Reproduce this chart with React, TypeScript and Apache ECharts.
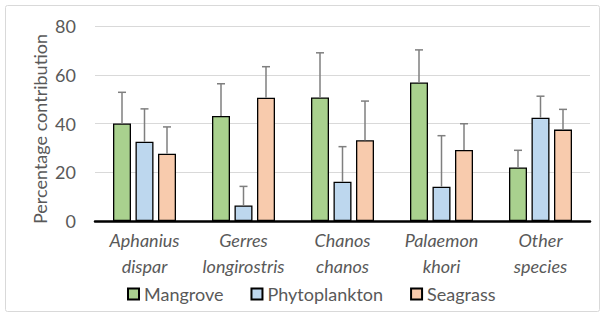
import React, { useEffect, useRef } from "react";
import * as echarts from "echarts";

const categories = ["Aphanius\ndispar", "Gerres\nlongirostris", "Chanos\nchanos", "Palaemon\nkhori", "Other\nspecies"];
const seriesNames = ["Mangrove", "Phytoplankton", "Seagrass"];
const mangrove = [40, 43.1, 50.7, 56.8, 22];
const phytoplankton = [32.5, 6.4, 16.1, 14.1, 42.4];
const seagrass = [27.6, 50.6, 33.1, 29.1, 37.5];
const mangroveErr = [12.8, 13.2, 18.3, 13.4, 7];
const phytoplanktonErr = [13.5, 7.8, 14.4, 20.9, 8.8];
const seagrassErr = [11, 12.7, 16.1, 10.8, 8.3];
const yTicks = { min: 0, max: 80, interval: 20 };
const yAxisTitle = "Percentage contribution";

const colors = ["#A9D18E", "#BDD7EE", "#F8CBAD"];
const FONT = "Lato";

export default function App() {
  const ref = useRef<HTMLDivElement>(null);
  useEffect(() => {
    document.body.style.margin = "0";
    const chart = echarts.init(ref.current!, undefined, { renderer: "svg" });
    const values = [mangrove, phytoplankton, seagrass];
    const errs = [mangroveErr, phytoplanktonErr, seagrassErr];
    const barWidth = 18;
    const gap = 4.5;
    const barSeries = values.map((v, i) => ({
      name: seriesNames[i],
      type: "bar",
      data: v,
      barWidth,
      barGap: (gap / barWidth) * 100 + "%",
      itemStyle: { color: colors[i], borderColor: "#000", borderWidth: 1.3 },
      z: 2,
    }));
    const errSeries = values.map((v, i) => ({
      type: "custom",
      name: seriesNames[i] + " err",
      data: v.map((val, k) => [k, val, errs[i][k]]),
      z: 3,
      renderItem: (params: any, api: any) => {
        const c = api.value(0);
        const val = api.value(1);
        const e = api.value(2);
        const p0 = api.coord([c, val]);
        const p1 = api.coord([c, val + e]);
        const x = p0[0] + (i - 1) * (barWidth + gap);
        const style = { stroke: "#7f7f7f", lineWidth: 1.5 };
        return {
          type: "group",
          children: [
            { type: "line", shape: { x1: x, y1: p0[1], x2: x, y2: p1[1] }, style },
            { type: "line", shape: { x1: x - 4, y1: p1[1], x2: x + 4, y2: p1[1] }, style },
          ],
        };
      },
    }));
    chart.setOption({
      animation: false,
      grid: { left: 95, right: 15, top: 26, bottom: 95 },
      graphic: [
        {
          type: "rect",
          shape: { x: 5.5, y: 5.5, width: 594, height: 306, r: 2 },
          style: { fill: "none", stroke: "#d9d9d9", lineWidth: 1 },
          silent: true,
        },
        {
          type: "text",
          x: 40,
          y: 129,
          rotation: Math.PI / 2,
          style: {
            text: yAxisTitle,
            fontFamily: FONT,
            fontSize: 18,
            fill: "#595959",
            align: "center",
            verticalAlign: "middle",
          },
          silent: true,
        },
      ],
      legend: {
        data: seriesNames,
        left: 127,
        top: 285,
        padding: 0,
        icon: "rect",
        itemWidth: 11,
        itemHeight: 11,
        itemGap: 27,
        textStyle: { fontFamily: FONT, fontSize: 18, color: "#595959" },
      },
      xAxis: {
        type: "category",
        data: categories,
        axisLine: { lineStyle: { color: "#000", width: 2.5 } },
        axisTick: { show: false },
        axisLabel: {
          fontFamily: FONT,
          fontStyle: "italic",
          fontSize: 18,
          color: "#595959",
          lineHeight: 26,
          margin: 6,
          interval: 0,
        },
      },
      yAxis: {
        type: "value",
        min: yTicks.min,
        max: yTicks.max,
        interval: yTicks.interval,
        axisLine: { show: false },
        axisTick: { show: false },
        axisLabel: { fontFamily: FONT, fontSize: 18, color: "#595959", margin: 19 },
        splitLine: { lineStyle: { color: "#d9d9d9", width: 1 } },
      },
      series: [...barSeries, ...errSeries],
    });
    return () => chart.dispose();
  }, []);
  return <div ref={ref} style={{ width: 605, height: 316 }} />;
}
